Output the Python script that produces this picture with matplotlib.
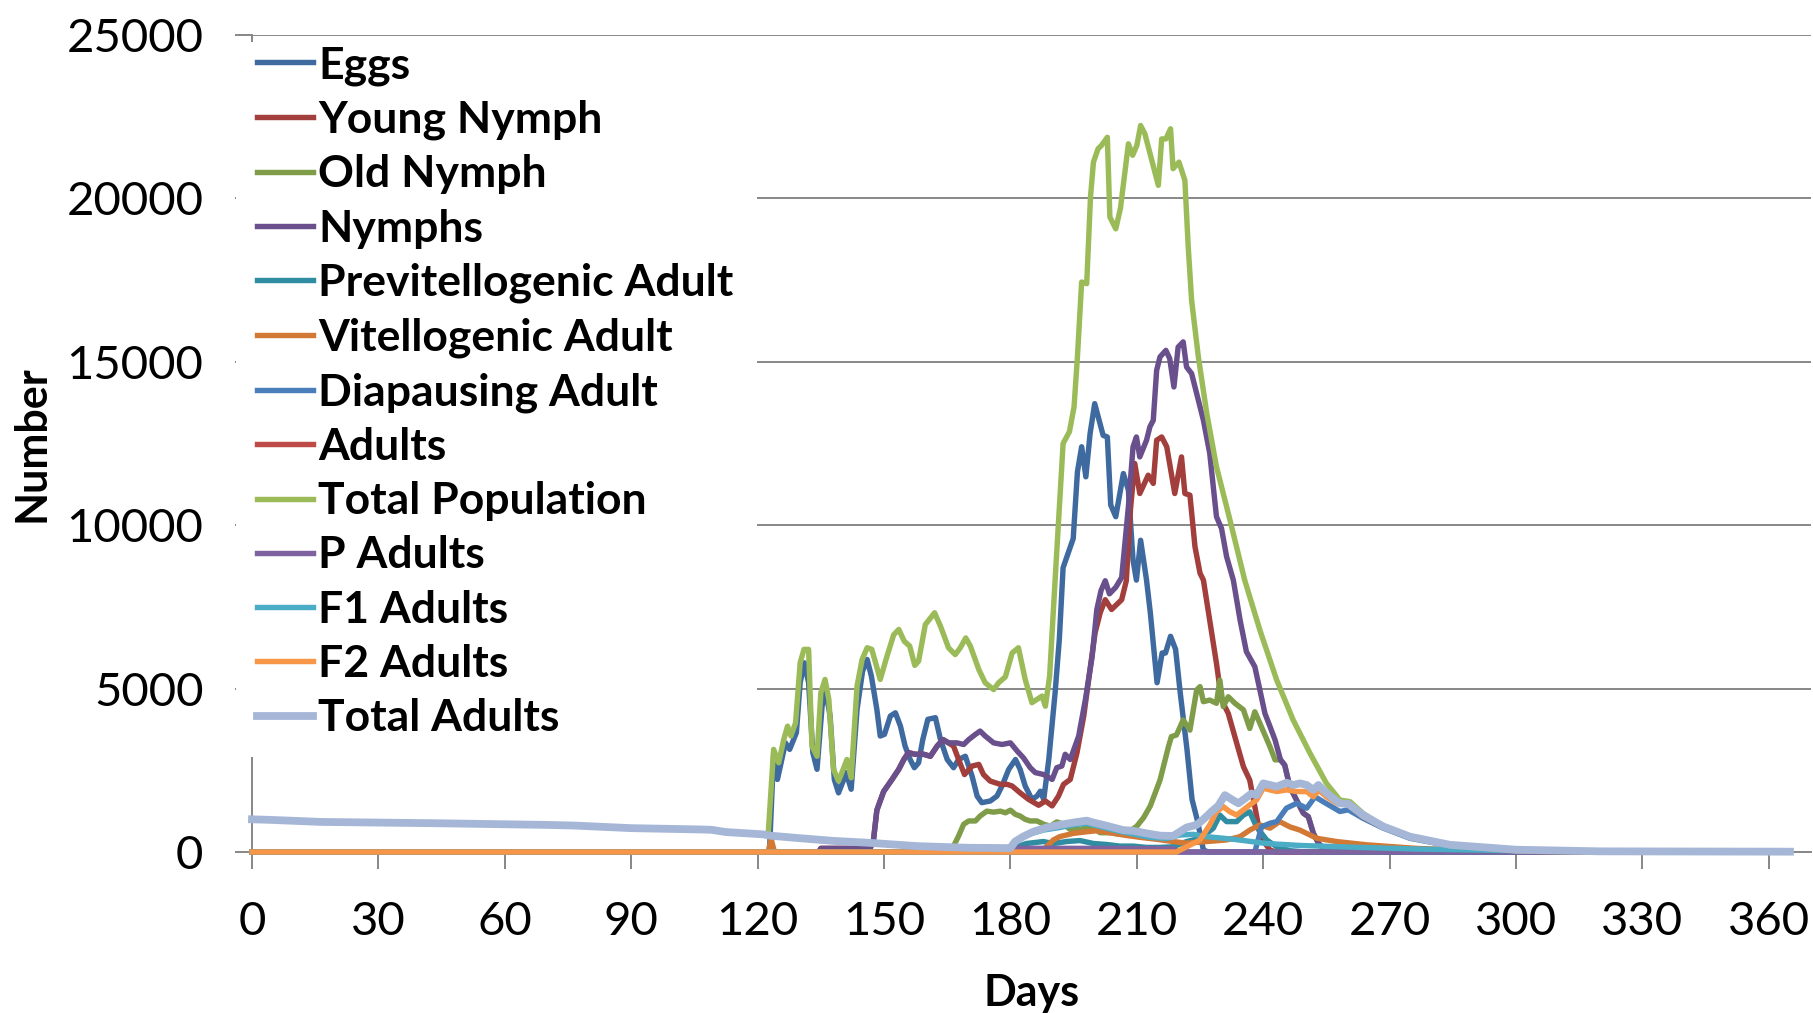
import matplotlib
matplotlib.use("Agg")
from matplotlib import pyplot as plt
from matplotlib.patches import Rectangle

plt.rcParams['font.family'] = ['Lato', 'DejaVu Sans']

# ---- data (day, number) ----
eggs_days = [0, 122.8, 123.8, 124.7, 125.4, 126.6, 127.6, 129.2, 130.1, 131.1, 132.1, 133.1, 134.1,
             135.3, 136.1, 137.2, 138.2, 139.2, 140.3, 141, 142.2, 143.6, 144.9, 146, 147, 148.3,
             149.1, 150.1, 151.5, 152.7, 153.9, 155, 156.2, 157.2, 158.2, 159.2, 160.4, 162.2,
             163.4, 165, 166.5, 167.7, 169.3, 170.9, 172.1, 173.2, 175.2, 176.8, 178, 179.6, 181.2,
             182.3, 183.5, 185.1, 186.3, 187.1, 187.9, 189.1, 190.6, 191.6, 192.5, 194.9, 195.9,
             196.9, 197.9, 198.9, 200, 202, 203, 203.8, 205, 206.8, 208, 209.1, 209.9, 210.9,
             212.3, 213.2, 214.8, 216, 216.8, 218, 219.2, 220.3, 221.9, 223.1, 224.3, 225.8, 227, 365]
eggs = [0, 0, 3000, 2220, 2630, 3340, 3140, 3650, 5180, 5790, 5180, 3040, 2530,
        4460, 4970, 4160, 2220, 1810, 2170, 2430, 1920, 4360, 5530, 5890, 5380, 4360,
        3550, 3600, 4160, 4260, 3850, 3240, 2830, 2580, 2730, 3440, 4060, 4110,
        3440, 2830, 2580, 2830, 2930, 2320, 1710, 1510, 1560, 1710, 2020, 2530, 2830,
        2530, 2020, 1610, 1710, 1860, 1610, 2830, 4870, 6500, 8700, 9590, 11630,
        12400, 11480, 12800, 13720, 12750, 12700, 10620, 10260, 11580, 11070, 8930, 8320, 9540,
        8320, 7320, 5180, 6090, 6090, 6600, 6200, 4870, 3140, 1610, 1000, 60, 0, 0]

young_days = [0, 134.5, 135, 146.7, 147.5, 148.3, 149.9, 151.9, 153.5, 154.7, 155.8, 157.4, 159.4,
              161, 162.6, 164, 165.3, 166.5, 167.7, 169.1, 170.9, 172.5, 173.6, 175.2, 177.6,
              179.2, 180.4, 182.3, 184.3, 186.7, 188.3, 189.9, 191.4, 192.6, 194.2, 195.8, 197.4,
              199, 200.1, 201.3, 202.5, 204, 206.4, 207.5, 208.5, 209.5, 210.7, 212.7, 213.9,
              214.7, 215.9, 217.1, 219, 220.6, 221.4, 222.6, 223.8, 225, 225.8, 228.9, 230.1,
              231.7, 233.7, 235.3, 236.8, 238, 239.2, 240.4, 241.6, 243, 365]
young_nymph = [0, 0, 110, 110, 370, 1280, 1850, 2220, 2530, 2830, 3040, 2990, 2990,
               2930, 3240, 3440, 3340, 3240, 2830, 2370, 2630, 2680, 2370, 2170, 2070,
               2070, 2020, 1810, 1610, 1430, 1560, 1410, 1710, 2070, 2220, 3040, 4160,
               5690, 6710, 7320, 7720, 7420, 7720, 8300, 10500, 11890, 10970, 11530, 11280,
               12600, 12700, 12400, 10970, 12090, 10970, 10920, 9340, 8530, 8320, 5770, 4650,
               4240, 3330, 2610, 2200, 1390, 570, 270, 60, 0, 0]

old_days = [0, 165.5, 166.5, 167.7, 168.9, 170.1, 171.7, 172.8, 174.4, 176, 177.6, 178.8, 180,
            181.2, 182.3, 183.5, 184.7, 186.3, 187.9, 189.5, 191, 192.6, 194.2, 196.6, 199,
            201.3, 203.7, 206.1, 208.4, 210, 211.6, 213.2, 215.5, 217.5, 218.2, 219.4, 221,
            222.6, 224.2, 225, 225.8, 227.3, 228.9, 229.7, 230.5, 231.7, 233.3, 235.3, 236.8,
            238, 239.2, 240.4, 241.6, 242.8, 244.1, 245.1, 246.3, 247.9, 249.5, 250.7, 251.9,
            253.1, 254.2, 255.5, 365]
old_nymph = [0, 0, 180, 490, 850, 950, 950, 1100, 1250, 1220, 1250, 1200, 1280,
             1150, 1100, 1000, 950, 950, 850, 790, 920, 850, 690, 690, 790,
             590, 590, 540, 640, 790, 1050, 1410, 2200, 3220, 3530, 3580, 4040,
             3730, 4960, 5060, 4600, 4650, 4550, 5260, 4450, 4750, 4550, 4350, 3780,
             4290, 3940, 3580, 3220, 2820, 2820, 2660, 2000, 1590, 1190, 1080, 570,
             270, 120, 0, 0]

nymph_days = [0, 134.5, 135, 146.7, 147.5, 148.3, 149.9, 151.9, 153.5, 154.7, 155.8, 157.4, 159.4,
              161, 162.6, 164, 165.3, 167.3, 168.9, 170.1, 171.7, 172.8, 174, 176, 178, 180,
              181.6, 183.1, 184.7, 185.9, 187.9, 189.9, 191, 192.2, 193, 194.2, 196.2, 197.8,
              199.4, 200.5, 201.5, 202.5, 203.5, 205, 206.4, 208, 209.1, 209.9, 210.7, 212.3,
              213.1, 213.9, 214.7, 215.5, 216.9, 217.8, 218.8, 219.8, 221, 221.8, 223, 224.2,
              225.8, 227.3, 228.9, 230.1, 231.3, 232.9, 234.5, 236, 238, 239.2, 240.4, 241.6,
              242.8, 244.1, 245.1, 246.3, 247.9, 249.5, 250.7, 251.9, 253.1, 254.2, 255.5, 365]
nymphs = [0, 0, 110, 110, 370, 1280, 1850, 2220, 2530, 2830, 3040, 2990, 2990,
          2930, 3240, 3440, 3340, 3340, 3290, 3440, 3600, 3700, 3550, 3340, 3290, 3340,
          3090, 2880, 2580, 2430, 2370, 2220, 2580, 2630, 2990, 2830, 3550, 4670,
          5990, 7420, 8000, 8300, 7900, 8100, 8400, 10570, 12400, 12700, 12090, 12600,
          13010, 13210, 14740, 15150, 15350, 15100, 14230, 15450, 15610, 14840, 14640, 14030,
          13210, 12200, 10260, 9900, 9040, 8320, 7100, 6130, 5670, 4960, 4240, 3840,
          3430, 2820, 2660, 2000, 1590, 1190, 1080, 570, 270, 120, 0, 0]

previt_days = [0, 179.5, 181.5, 183.8, 187.8, 190.2, 193.3, 196.5, 199.7, 202.8, 206, 209.1,
               212.3, 215.5, 218.6, 221.8, 225, 228.1, 229.7, 231.3, 233.7, 235.3, 236.8,
               238.4, 240.8, 243.2, 246.3, 250, 365]
previtellogenic = [0, 0, 160, 260, 320, 260, 320, 350, 260, 230, 180, 180,
                   140, 140, 160, 320, 420, 720, 1130, 930, 930, 1130, 1230,
                   770, 370, 160, 40, 0, 0]

vit_days = [0, 122.5, 123.2, 124, 187, 187.8, 190.2, 191.7, 194.9, 198.1, 200.4, 203.6, 206.8,
            210.7, 214.7, 218.6, 221.8, 226.6, 231.3, 234.5, 236.8, 239.2, 241.6, 243.9,
            246.3, 248.7, 252.7, 257.4, 264.5, 276.4, 292.2, 310, 365]
vitellogenic = [0, 0, 400, 0, 0, 60, 370, 470, 570, 620, 650, 590, 520,
                450, 390, 320, 270, 320, 370, 470, 670, 830, 730, 930,
                770, 670, 420, 320, 220, 110, 40, 0, 0]

diap_days = [0, 238, 239.6, 241.6, 243.2, 245.5, 247.1, 247.9, 250.3, 252.3, 254.2, 256.2,
             258.2, 260.2, 263.7, 268.5, 274.8, 284.3, 300, 320, 365]
diapausing = [0, 0, 770, 880, 930, 1340, 1440, 1490, 1340, 1690, 1540, 1390,
              1240, 1290, 1030, 730, 420, 190, 40, 10, 0]

tadult_days = [0, 4, 16.5, 43.8, 69.6, 76.4, 90, 106.4, 109, 112.5, 121.3, 123, 129.3, 138,
               146.7, 157.8, 169.7, 179.2, 179.9, 181.1, 183, 185.4, 188.6, 191.7, 194.9,
               198.1, 199.7, 202, 204.4, 206.8, 209.1, 212.3, 215.5, 218.6, 220.2, 221.8,
               224.2, 225.8, 227.7, 229.3, 230.9, 232.5, 234.1, 235.7, 237.2, 238.4, 240,
               241.6, 243.2, 245.5, 247.1, 248.7, 250.3, 251.9, 253.1, 254.6, 256.6, 258.2,
               260.2, 263.7, 268.5, 274.8, 284.3, 300, 320, 365]
total_adults = [1000, 985, 920, 880, 830, 810, 730, 690, 680, 610, 540, 500, 430, 340,
                280, 180, 130, 120, 110, 320, 470, 620, 750, 830, 900,
                960, 900, 830, 750, 670, 650, 570, 500, 490, 620, 750,
                830, 1000, 1235, 1410, 1740, 1610, 1490, 1640, 1790, 1740, 2100,
                2050, 2000, 2120, 2050, 2100, 2050, 1900, 2050, 1850, 1640, 1490,
                1470, 1130, 780, 470, 220, 70, 20, 10]

# "Adults" sits exactly under "Total Adults" in the chart
adult_days = tadult_days
adults = total_adults

tpop_days = [0, 16.5, 43.8, 69.6, 90, 109, 112.5, 122.5, 123.8, 125, 126.2, 127.1, 127.9, 129,
             130.1, 131, 132.1, 132.9, 134.1, 135, 136, 136.9, 138, 139.2, 140.3, 141.2, 142.2,
             143.6, 144.8, 146, 147.1, 149.1, 150.7, 152.3, 153.5, 154.8, 156.1, 157.3, 158.2,
             159.8, 162, 163.4, 165.3, 166.9, 168.1, 169.4, 170.5, 172.5, 174, 176, 177.2,
             178.8, 180.4, 181.9, 183.5, 185.1, 186.3, 187.5, 188.3, 189.3, 190.6, 192.5, 194,
             195.1, 195.9, 196.9, 198.1, 199, 199.7, 200.8, 201.6, 203, 203.6, 205, 206.1, 208,
             209, 210, 210.9, 211.9, 215.1, 215.9, 216.9, 218, 218.6, 220, 221.4, 222.2, 223,
             224.6, 226.6, 228.9, 232.1, 235.6, 239.2, 243.2, 247.1, 251.1, 255, 258.2, 260.6,
             263.7, 268.5, 274.8, 284.3, 300, 320, 365]
total_population = [1000, 920, 880, 830, 730, 680, 610, 530, 3140, 2730, 3440, 3850, 3550, 3950,
                    5790, 6200, 6200, 3240, 2930, 4870, 5280, 4670, 2530, 2170, 2530, 2830, 2270,
                    5080, 5890, 6250, 6200, 5280, 5990, 6650, 6810, 6450, 6300, 5710, 5840,
                    6960, 7320, 6910, 6250, 6040, 6250, 6550, 6300, 5580, 5180, 4970, 5180,
                    5360, 6090, 6250, 5280, 4570, 4670, 4770, 4460, 5380, 8320, 12500, 12860,
                    13620, 15150, 17440, 17390, 20040, 21110, 21520, 21620, 21870, 19430, 19070, 19690, 21670,
                    21320, 21620, 22230, 21980, 20400, 21820, 21820, 22130, 20910, 21110, 20550, 18510, 16880,
                    15150, 13420, 11790, 10160, 8320, 6790, 5260, 4040, 3020, 2100, 1590, 1540,
                    1180, 780, 450, 220, 70, 20, 0]

padult_days = [0, 4, 16.5, 43.8, 69.6, 76.4, 90, 106.4, 109, 112.5, 121.3, 123, 129.3, 138,
               146.7, 157.8, 169.7, 179.2, 181, 200, 218.6, 220, 365]
p_adults = [1000, 985, 920, 880, 830, 810, 730, 690, 680, 610, 540, 500, 430, 340,
            280, 180, 130, 120, 115, 110, 100, 0, 0]

f1_days = [0, 179.9, 181.5, 183.8, 187.8, 191.7, 194.9, 198.1, 201.2, 205.2, 209.1, 213.1,
           217.1, 220.2, 223.4, 226.6, 232.9, 240.8, 248.7, 260.6, 276.4, 300, 330, 365]
f1_adults = [0, 0, 370, 520, 670, 750, 830, 880, 780, 650, 550, 450,
             410, 520, 540, 470, 390, 260, 200, 150, 90, 40, 10, 0]

f2_days = [0, 219.4, 222.6, 225, 227.3, 228.9, 230.5, 232.1, 233.7, 235.3, 236.8, 238.4, 240,
           241.6, 243.2, 245.5, 247.9, 250.3, 251.9, 253.1, 255, 257.4, 260.2, 263.7, 268.5,
           274.8, 284.3, 300, 320, 365]
f2_adults = [0, 0, 210, 370, 830, 1230, 1390, 1230, 1130, 1290, 1440, 1590, 1950,
             1900, 1850, 1900, 1850, 1850, 1690, 1900, 1690, 1490, 1440, 1080, 760,
             450, 200, 40, 10, 0]

series = [
    ("Eggs", eggs_days, eggs, "#3E6AA0"),
    ("Young Nymph", young_days, young_nymph, "#A23E3B"),
    ("Old Nymph", old_days, old_nymph, "#7F9C48"),
    ("Nymphs", nymph_days, nymphs, "#69508C"),
    ("Previtellogenic Adult", previt_days, previtellogenic, "#2F8CA1"),
    ("Vitellogenic Adult", vit_days, vitellogenic, "#D27A35"),
    ("Diapausing Adult", diap_days, diapausing, "#4A7EBB"),
    ("Adults", adult_days, adults, "#BE4B48"),
    ("Total Population", tpop_days, total_population, "#9BBB59"),
    ("P Adults", padult_days, p_adults, "#7F63A1"),
    ("F1 Adults", f1_days, f1_adults, "#4BACC6"),
    ("F2 Adults", f2_days, f2_adults, "#F79646"),
    ("Total Adults", tadult_days, total_adults, "#A5B6D7"),
]

W, H = 1813, 1013
fig = plt.figure(figsize=(W / 100, H / 100), dpi=100)
ax = fig.add_axes([252 / W, 1 - 852 / H, (1811 - 252) / W, (852 - 35) / H])

for name, d, v, c in series:
    lw = 5.6 if name == "Total Adults" else 3.9
    # no clipping, so the lines lying on zero keep their full width over the axis
    ax.plot(d, v, color=c, lw=lw, label=name, solid_joinstyle='round',
            clip_on=False, zorder=3)

grey = "#878787"
ax.set_xlim(0, 370)
ax.set_ylim(0, 25000)
ax.set_xticks(range(0, 361, 30))
ax.set_yticks(range(0, 25001, 5000))
ax.yaxis.grid(True, color=grey, lw=1.4)
ax.set_axisbelow(True)
for s in ("top", "right"):
    ax.spines[s].set_visible(False)
for s in ("left", "bottom"):
    ax.spines[s].set_color(grey)
    ax.spines[s].set_linewidth(1.4)
ax.tick_params(axis="both", direction="out", length=12, width=1.4, color=grey,
               labelsize=34, pad=23)

ax.set_xlabel("Days", fontsize=31, fontweight="bold")
ax.xaxis.set_label_coords(0.5, (852 - 993) / 817)
ax.xaxis.label.set_va("center")
ax.set_ylabel("Number", fontsize=31, fontweight="bold")
ax.yaxis.set_label_coords((32 - 252) / 1559, 0.5)
ax.yaxis.label.set_va("center")

# white block behind the legend, as in the spreadsheet chart
ax.add_patch(Rectangle((236 / W, 1 - 757 / H), (757 - 236) / W, (757 - 42) / H,
                       transform=fig.transFigure, facecolor="white", edgecolor="none",
                       zorder=4, clip_on=False))

leg = ax.legend(loc="upper left", bbox_to_anchor=(257 / W, 1 - 45 / H),
                bbox_transform=fig.transFigure, frameon=False, borderpad=0,
                borderaxespad=0, handlelength=1.25, handletextpad=0.12,
                labelspacing=0.32, prop={"size": 32, "weight": "bold"})
leg.set_zorder(5)

fig.savefig("out.png", dpi=100)
